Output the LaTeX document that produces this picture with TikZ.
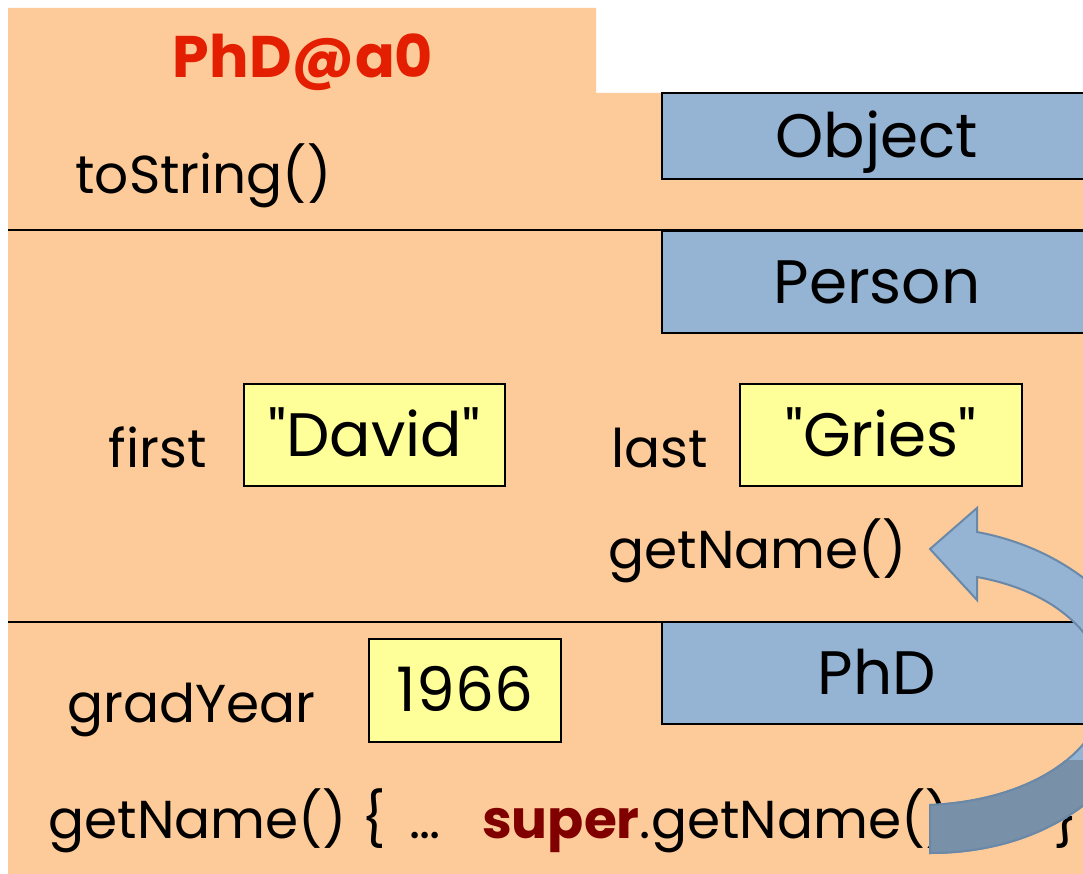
\documentclass[tikz,border=0pt]{standalone}
\usepackage{fontspec}
\setmainfont{Poppins}[Ligatures=TeXOff]
\usetikzlibrary{positioning}

\definecolor{frameOrange}{RGB}{253,203,153}
\definecolor{classBlue}{RGB}{149,180,211}
\definecolor{valYellow}{RGB}{255,255,153}
\definecolor{titleRed}{RGB}{228,30,0}
\definecolor{superRed}{RGB}{128,0,0}
\definecolor{arrowLine}{RGB}{106,136,168}
\definecolor{arrowDark}{RGB}{120,145,168}

\tikzset{every picture/.style={line width=0.75pt}}
\tikzset{
  lbl/.style={inner sep=0pt, font=\fontsize{40}{48}\selectfont},
  big/.style={inner sep=0pt, font=\fontsize{46}{54}\selectfont},
  clsbox/.style={big, draw=black, line width=1.2pt, fill=classBlue, minimum width=322.5pt, text height=32pt, text depth=0pt},
  valbox/.style={big, draw=black, line width=1.2pt, fill=valYellow, minimum height=76.5pt, text height=32pt, text depth=0pt}
}

\begin{document}
\begin{tikzpicture}[x=0.75pt,y=0.75pt,yscale=-1,xscale=1]
\useasboundingbox (0,0) rectangle (1083,874);
\clip (0,0) rectangle (1083,874);

%Shape: Object frame
\fill [frameOrange] (8,8) -- (596,8) -- (596,93) -- (1100,93) -- (1100,880) -- (8,880) -- cycle ;
%Straight Lines
\draw [line width=1.5pt] (8,230) -- (1100,230) ;
\draw [line width=1.5pt] (8,622) -- (1100,622) ;

% Text Node
\node (title) [big, anchor=base, font=\fontsize{44}{52}\selectfont\bfseries, text=titleRed] at (303,78) {PhD@a0};
\node (lblToString) [lbl, anchor=base west] at (75,194) {toString()};

%Class boxes
\node (clsObject) [clsbox, minimum height=64.5pt] at (877,136) {Object};
\node (clsPerson) [clsbox, minimum height=76.5pt] at (877,282) {Person};
\node (clsPhD) [clsbox, minimum height=76.5pt] at (877,673) {PhD};

%Fields
\node (valFirst) [valbox, minimum width=195.75pt] at (374.5,435) {"David"};
\node (lblFirst) [lbl, anchor=base east] at (207,467) {first};
\node (valLast) [valbox, minimum width=211.5pt] at (881,435) {"Gries"};
\node (lblLast) [lbl, anchor=base east] at (708,467) {last};
\node (lblGetName) [lbl, anchor=base west] at (608,568) {getName()};
\node (valGrad) [valbox, minimum width=144pt, minimum height=77.25pt] at (465,690.5) {1966};
\node (lblGrad) [lbl, anchor=base west] at (67,722) {gradYear};
\node (lblCall) [lbl, anchor=base west] at (48,838) {getName() \{\hspace{18pt}…\hspace{31pt}\textcolor{superRed}{\bfseries super}.getName()\hspace{28pt}…\hspace{27pt}\}};

%Curved Arrow
\draw [arrowLine, line width=1.5pt, fill=classBlue] (930,549) -- (977,508) -- (977,532) .. controls (1075,550) and (1150,620) .. (1150,695) .. controls (1150,755) and (1075,853) .. (930,853) -- (930,805) .. controls (1040,800) and (1105,745) .. (1105,690) .. controls (1105,640) and (1060,592) .. (977,577) -- (977,600) -- cycle ;
\begin{scope}
\clip (900,760) rectangle (1083,874);
\draw [arrowLine, line width=1.5pt, fill=arrowDark] (1150,695) .. controls (1150,755) and (1075,853) .. (930,853) -- (930,805) .. controls (1040,800) and (1105,745) .. (1105,690) -- cycle ;
\end{scope}

\end{tikzpicture}
\end{document}
